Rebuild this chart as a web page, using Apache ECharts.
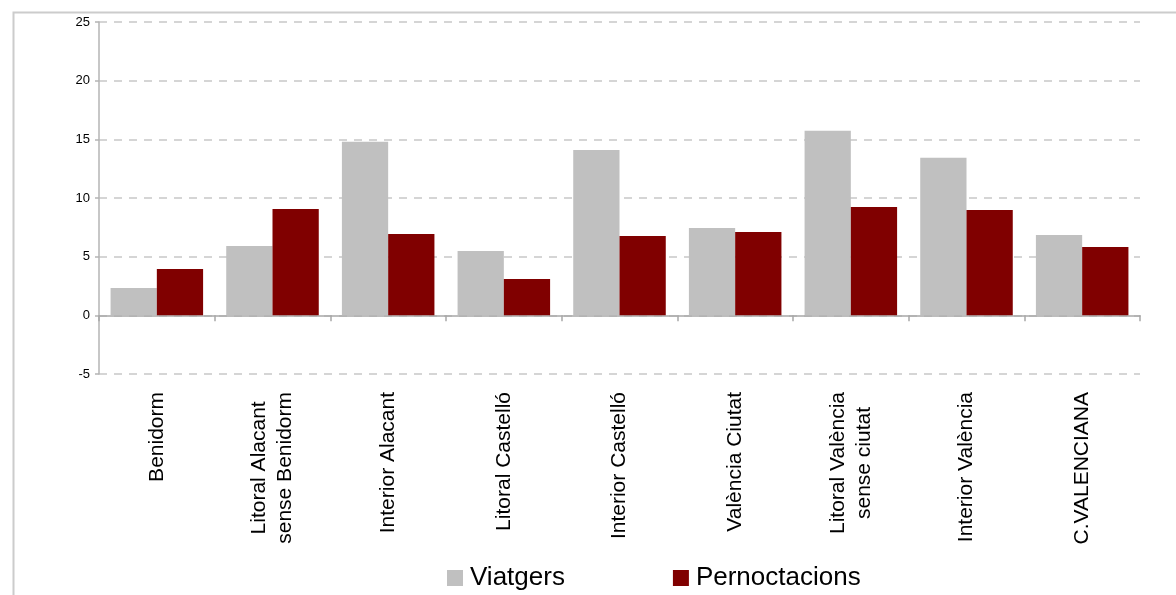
<!DOCTYPE html>
<html>
<head>
<meta charset="utf-8">
<script src="https://cdn.jsdelivr.net/npm/echarts@6/dist/echarts.min.js"></script>
<style>
html,body{margin:0;padding:0;background:#fff;}
#chart{width:1176px;height:595px;}
</style>
</head>
<body>
<div id="chart"></div>
<script>
var categories = ['Benidorm', 'Litoral Alacant\nsense Benidorm', 'Interior Alacant', 'Litoral Castelló', 'Interior Castelló', 'València Ciutat', 'Litoral València\nsense ciutat', 'Interior València', 'C.VALENCIANA'];
var viatgers = [2.33, 5.91, 14.79, 5.49, 14.10, 7.45, 15.73, 13.42, 6.85];
var pernoctacions = [3.95, 9.07, 6.94, 3.10, 6.77, 7.11, 9.24, 8.98, 5.83];
var seriesNames = ['Viatgers', 'Pernoctacions'];
var yMin = -5, yMax = 25, yStep = 5;

var FONT = '"Liberation Sans", Arial, sans-serif';
var chart = echarts.init(document.getElementById('chart'), null, {renderer: 'canvas'});
chart.setOption({
  animation: false,
  backgroundColor: '#ffffff',
  textStyle: {fontFamily: FONT},
  graphic: [{
    type: 'rect', left: 11, top: 10, z: -10,
    shape: {width: 1200, height: 700},
    style: {fill: 'none', stroke: '#cccccc', lineWidth: 2}
  }],
  grid: {left: 99, right: 36, top: 22, bottom: 221, containLabel: false},
  legend: {
    data: seriesNames,
    left: 447, top: 565, padding: 0,
    itemWidth: 16, itemHeight: 16, itemGap: 108,
    icon: 'rect',
    textStyle: {fontSize: 26, color: '#000', fontFamily: FONT, padding: [0, 0, 0, 2]}
  },
  xAxis: [{
    type: 'category', data: categories, boundaryGap: true,
    axisLine: {show: true, onZero: true, lineStyle: {color: '#a8a8a8', width: 1.5}},
    axisTick: {show: true, length: 6, lineStyle: {color: '#a8a8a8', width: 1.5}},
    axisLabel: {show: false},
    splitLine: {show: false}
  }, {
    type: 'category', data: categories, boundaryGap: true, position: 'bottom',
    axisLine: {show: false, onZero: false},
    axisTick: {show: false},
    axisLabel: {
      show: true, rotate: 90, margin: 18, interval: 0,
      color: '#000', fontSize: 21, fontFamily: FONT, lineHeight: 26,
      formatter: function (v) {
        return v.split('\n').map(function (s) { return '{c|' + s + '}'; }).join('\n');
      },
      rich: {c: {align: 'center', fontSize: 21, lineHeight: 26, color: '#000', fontFamily: FONT}}
    },
    splitLine: {show: false}
  }],
  yAxis: {
    type: 'value', min: yMin, max: yMax, interval: yStep,
    axisLine: {show: true, lineStyle: {color: '#b4b4b4', width: 1.5}},
    axisTick: {show: true, length: 4, lineStyle: {color: '#b4b4b4', width: 1.5}},
    axisLabel: {color: '#000', fontSize: 13, margin: 9, fontFamily: FONT},
    splitLine: {show: true, lineStyle: {color: '#c8c8c8', type: [8, 7], width: 1.5}}
  },
  series: [{
    name: seriesNames[0], type: 'bar', xAxisIndex: 0, data: viatgers,
    itemStyle: {color: '#c0c0c0'}, barGap: '0%', barCategoryGap: '20%'
  }, {
    name: seriesNames[1], type: 'bar', xAxisIndex: 0, data: pernoctacions,
    itemStyle: {color: '#800000'}, barGap: '0%', barCategoryGap: '20%'
  }]
});
</script>
</body>
</html>
